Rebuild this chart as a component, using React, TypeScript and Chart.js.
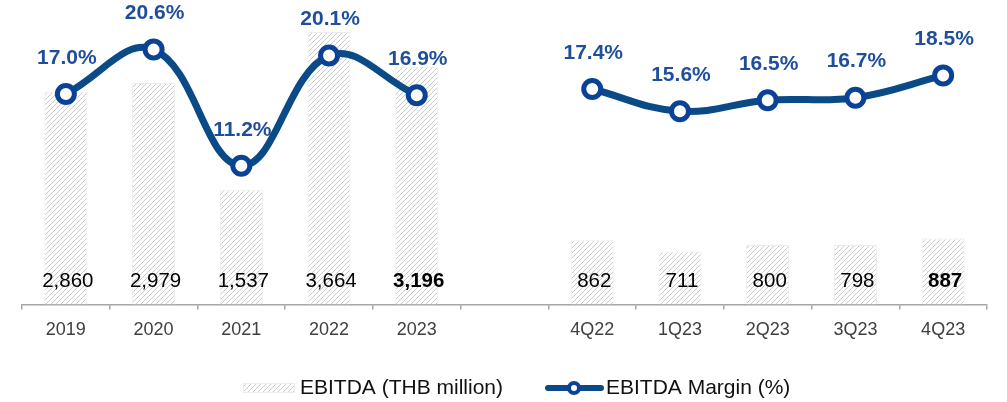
import React, { useEffect, useRef } from 'react';
import { Chart, registerables } from 'chart.js';

Chart.register(...registerables);

const categories = ['2019', '2020', '2021', '2022', '2023', '', '4Q22', '1Q23', '2Q23', '3Q23', '4Q23'];
const ebitda: (number | null)[] = [2860, 2979, 1537, 3664, 3196, null, 862, 711, 800, 798, 887];
const ebitdaMargin: (number | null)[] = [17.0, 20.6, 11.2, 20.1, 16.9, null, 17.4, 15.6, 16.5, 16.7, 18.5];
const highlighted = ['2023', '4Q23'];
const seriesNames = ['EBITDA (THB million)', 'EBITDA Margin (%)'];

const FONT = '"Liberation Sans", Arial, sans-serif';
const LINE_COLOR = '#0a4a86';
const POINT_COLOR = '#0a4396';
const LABEL_BLUE = '#1f4e9c';

function makeHatch(ctx: CanvasRenderingContext2D): CanvasPattern | string {
  const s = 5;
  const c = document.createElement('canvas');
  c.width = s;
  c.height = s;
  const g = c.getContext('2d');
  if (!g) return '#eeeeee';
  g.fillStyle = '#ffffff';
  g.fillRect(0, 0, s, s);
  g.strokeStyle = '#cbcbcb';
  g.lineWidth = 1;
  g.beginPath();
  g.moveTo(0, s);
  g.lineTo(s, 0);
  g.moveTo(-1, 1);
  g.lineTo(1, -1);
  g.moveTo(s - 1, s + 1);
  g.lineTo(s + 1, s - 1);
  g.stroke();
  return ctx.createPattern(c, 'repeat') || '#eeeeee';
}

export default function App() {
  const ref = useRef<HTMLCanvasElement | null>(null);

  useEffect(() => {
    const canvas = ref.current;
    if (!canvas) return;
    const ctx = canvas.getContext('2d');
    if (!ctx) return;
    const hatch = makeHatch(ctx);

    const labelPlugin = {
      id: 'labelPlugin',
      afterDatasetsDraw(chart: any) {
        const c = chart.ctx as CanvasRenderingContext2D;
        const bottom = chart.chartArea.bottom;
        const barMeta = chart.getDatasetMeta(0);
        c.save();
        c.textAlign = 'center';
        c.textBaseline = 'middle';
        barMeta.data.forEach((el: any, i: number) => {
          const v = ebitda[i];
          if (v == null) return;
          const bold = highlighted.includes(categories[i]);
          c.font = `${bold ? 'bold ' : ''}20.5px ${FONT}`;
          c.fillStyle = '#000000';
          c.fillText(v.toLocaleString('en-US'), el.x + 2, bottom - 23);
        });
        const lineMeta = chart.getDatasetMeta(1);
        c.font = `bold 21px ${FONT}`;
        c.fillStyle = LABEL_BLUE;
        lineMeta.data.forEach((el: any, i: number) => {
          const v = ebitdaMargin[i];
          if (v == null) return;
          c.fillText(v.toFixed(1) + '%', el.x + 1, el.y - 36);
        });
        c.restore();
      },
      afterDraw(chart: any) {
        const c = chart.ctx as CanvasRenderingContext2D;
        const cy = 388;
        c.save();
        c.fillStyle = hatch as any;
        c.fillRect(243, cy - 5, 52, 10);
        c.strokeStyle = '#ececec';
        c.lineWidth = 1;
        c.strokeRect(243.5, cy - 4.5, 51, 9);
        c.font = `21px ${FONT}`;
        c.fillStyle = '#111111';
        c.textAlign = 'left';
        c.textBaseline = 'middle';
        c.fillText(seriesNames[0], 300, cy);
        c.strokeStyle = LINE_COLOR;
        c.lineWidth = 6;
        c.lineCap = 'round';
        c.beginPath();
        c.moveTo(548, cy);
        c.lineTo(601, cy);
        c.stroke();
        c.beginPath();
        c.arc(574, cy, 5, 0, Math.PI * 2);
        c.fillStyle = '#ffffff';
        c.fill();
        c.lineWidth = 4;
        c.strokeStyle = POINT_COLOR;
        c.stroke();
        c.fillStyle = '#111111';
        c.fillText(seriesNames[1], 606, cy);
        c.restore();
      },
    };

    const chart = new Chart(ctx, {
      type: 'bar',
      data: {
        labels: categories,
        datasets: [
          {
            type: 'bar',
            label: seriesNames[0],
            data: ebitda,
            yAxisID: 'y',
            backgroundColor: hatch as any,
            borderColor: '#ececec',
            borderWidth: 1,
            categoryPercentage: 1,
            barPercentage: 0.49,
            order: 1,
          },
          {
            type: 'line',
            label: seriesNames[1],
            data: ebitdaMargin,
            yAxisID: 'y1',
            borderColor: LINE_COLOR,
            borderWidth: 7,
            tension: 0.4,
            pointRadius: 8.5,
            pointHoverRadius: 8.5,
            pointBorderWidth: 5,
            pointBackgroundColor: '#ffffff',
            pointBorderColor: POINT_COLOR,
            spanGaps: false,
            clip: false as any,
            order: 0,
          },
        ],
      },
      options: {
        responsive: false,
        animation: false,
        layout: { padding: { left: 22, right: 20, top: 14, bottom: 51 } },
        plugins: {
          legend: { display: false },
          tooltip: { enabled: false },
        },
        scales: {
          x: {
            type: 'category',
            offset: true,
            grid: {
              display: true,
              drawOnChartArea: false,
              drawTicks: true,
              tickLength: 5,
              color: '#a6a6a6',
              lineWidth: 1.5,
              offset: true,
            },
            border: { display: true, color: '#a6a6a6', width: 1.5 },
            ticks: {
              color: '#404040',
              font: { family: FONT, size: 18 },
              padding: 10,
              autoSkip: false,
              maxRotation: 0,
            },
          },
          y: { display: false, min: 0, max: 3906, position: 'left' },
          y1: { display: false, min: 0, max: 23.46, position: 'right' },
        },
      },
      plugins: [labelPlugin],
    });

    return () => {
      chart.destroy();
    };
  }, []);

  return (
    <div style={{ position: 'fixed', left: 0, top: 0, width: 1007, height: 402, background: '#ffffff' }}>
      <canvas ref={ref} width={1007} height={402} style={{ display: 'block' }} />
    </div>
  );
}
